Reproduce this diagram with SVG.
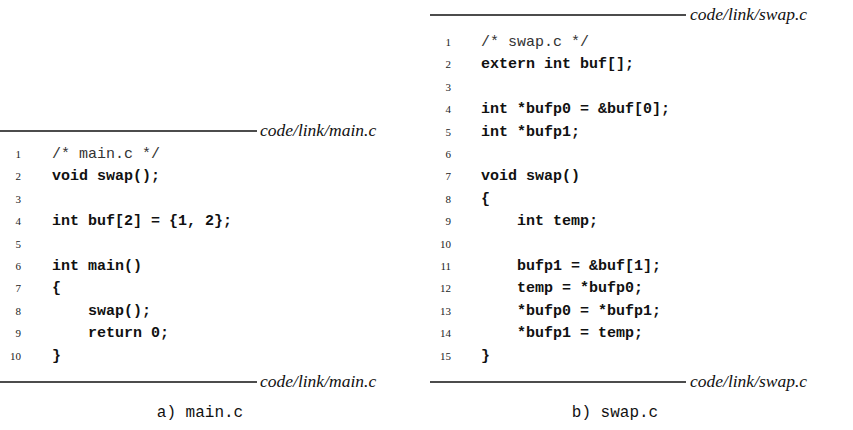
<svg xmlns="http://www.w3.org/2000/svg" width="853" height="430" viewBox="0 0 853 430">
<style>
.code{font-family:"Liberation Mono","DejaVu Sans Mono",monospace;font-size:15px;font-weight:bold;fill:#111;}
.cmt{font-family:"Liberation Mono","DejaVu Sans Mono",monospace;font-size:15px;font-weight:normal;fill:#333;}
.num{font-family:"Liberation Serif","DejaVu Serif",serif;font-size:11px;fill:#222;text-anchor:end;}
.file{font-family:"Liberation Serif","DejaVu Serif",serif;font-size:17.5px;font-style:italic;fill:#111;}
.cap{font-family:"Liberation Mono","DejaVu Sans Mono",monospace;font-size:16px;fill:#111;text-anchor:middle;}
.rule{stroke:#111;stroke-width:1.5;}
</style>
<rect width="853" height="430" fill="#fff"/>
<g id="main-c">
<line class="rule" x1="0" y1="131" x2="257" y2="131"/>
<text class="file" x="260" y="136">code/link/main.c</text>
<text class="num" x="21" y="158">1</text><text class="cmt" x="52" y="158">/* main.c */</text>
<text class="num" x="21" y="180.4">2</text><text class="code" x="52" y="180.4">void swap();</text>
<text class="num" x="21" y="202.8">3</text>
<text class="num" x="21" y="225.2">4</text><text class="code" x="52" y="225.2">int buf[2] = {1, 2};</text>
<text class="num" x="21" y="247.6">5</text>
<text class="num" x="21" y="270">6</text><text class="code" x="52" y="270">int main()</text>
<text class="num" x="21" y="292.4">7</text><text class="code" x="52" y="292.4">{</text>
<text class="num" x="21" y="314.8">8</text><text class="code" x="88" y="314.8">swap();</text>
<text class="num" x="21" y="337.2">9</text><text class="code" x="88" y="337.2">return 0;</text>
<text class="num" x="21" y="359.6">10</text><text class="code" x="52" y="359.6">}</text>
<line class="rule" x1="0" y1="382" x2="257" y2="382"/>
<text class="file" x="260" y="387">code/link/main.c</text>
<text class="cap" x="200" y="417">a) main.c</text>
</g>
<g id="swap-c">
<line class="rule" x1="430" y1="15" x2="686" y2="15"/>
<text class="file" x="690" y="20">code/link/swap.c</text>
<text class="num" x="451" y="46">1</text><text class="cmt" x="481" y="46">/* swap.c */</text>
<text class="num" x="451" y="68.4">2</text><text class="code" x="481" y="68.4">extern int buf[];</text>
<text class="num" x="451" y="90.8">3</text>
<text class="num" x="451" y="113.2">4</text><text class="code" x="481" y="113.2">int *bufp0 = &amp;buf[0];</text>
<text class="num" x="451" y="135.6">5</text><text class="code" x="481" y="135.6">int *bufp1;</text>
<text class="num" x="451" y="158">6</text>
<text class="num" x="451" y="180.4">7</text><text class="code" x="481" y="180.4">void swap()</text>
<text class="num" x="451" y="202.8">8</text><text class="code" x="481" y="202.8">{</text>
<text class="num" x="451" y="225.2">9</text><text class="code" x="517" y="225.2">int temp;</text>
<text class="num" x="451" y="247.6">10</text>
<text class="num" x="451" y="270">11</text><text class="code" x="517" y="270">bufp1 = &amp;buf[1];</text>
<text class="num" x="451" y="292.4">12</text><text class="code" x="517" y="292.4">temp = *bufp0;</text>
<text class="num" x="451" y="314.8">13</text><text class="code" x="517" y="314.8">*bufp0 = *bufp1;</text>
<text class="num" x="451" y="337.2">14</text><text class="code" x="517" y="337.2">*bufp1 = temp;</text>
<text class="num" x="451" y="359.6">15</text><text class="code" x="481" y="359.6">}</text>
<line class="rule" x1="430" y1="382" x2="686" y2="382"/>
<text class="file" x="690" y="387">code/link/swap.c</text>
<text class="cap" x="615" y="417">b) swap.c</text>
</g>
</svg>
